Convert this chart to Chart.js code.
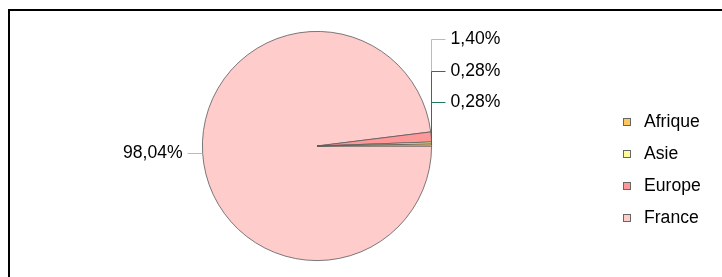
<!DOCTYPE html>
<html>
<head>
<meta charset="utf-8">
<script src="https://cdn.jsdelivr.net/npm/chart.js@4/dist/chart.umd.min.js"></script>
<style>
  html, body { margin: 0; padding: 0; background: #fff; }
  #wrap { position: relative; width: 722px; height: 277px; overflow: hidden; }
  #frame { position: absolute; left: 8px; top: 9px; width: 800px; height: 400px;
           border-left: 2px solid #000; border-top: 2px solid #000; }
  #pie { position: absolute; left: 0; top: 0; }
</style>
</head>
<body>
<div id="wrap">
  <div id="frame"></div>
  <canvas id="pie" width="722" height="277"></canvas>
</div>
<script>
  // drawn clockwise from 3 o'clock, legend shown reversed
  var labels = ["France", "Europe", "Asie", "Afrique"];
  var counts = [350, 5, 1, 1];
  var colors = ["#ffcccc", "#ff9999", "#ffff99", "#ffc65c"];

  var FONT = '17.6px "Liberation Sans", Arial, sans-serif';
  var LIGHT = "#98cbbb";
  var DARK = "#1f7a57";

  function pct(v) {
    var total = counts.reduce(function (a, b) { return a + b; }, 0);
    return (v / total * 100).toFixed(2).replace(".", ",") + "%";
  }

  var labelsPlugin = {
    id: "pieLabels",
    afterDatasetsDraw: function (chart) {
      var ctx = chart.ctx;
      var arcs = chart.getDatasetMeta(0).data;
      ctx.save();
      ctx.font = FONT;
      ctx.fillStyle = "#000";
      ctx.textBaseline = "middle";
      ctx.lineWidth = 1;

      // big slice on the left
      var a0 = arcs[0].getProps(["x", "y", "startAngle", "endAngle", "outerRadius"], true);
      var m0 = (a0.startAngle + a0.endAngle) / 2;
      var ex = a0.x + Math.cos(m0) * a0.outerRadius;
      var ey = Math.round(a0.y + Math.sin(m0) * a0.outerRadius) + 0.5;
      ctx.strokeStyle = LIGHT;
      ctx.beginPath();
      ctx.moveTo(ex, ey);
      ctx.lineTo(ex - 15, ey);
      ctx.stroke();
      ctx.textAlign = "right";
      ctx.fillText(pct(counts[0]), ex - 20, ey);

      // small slices stacked on the right
      var colX = Math.round(a0.x + a0.outerRadius) - 0.5;
      var topY = a0.y - a0.outerRadius + 8;
      ctx.textAlign = "left";
      for (var i = 1; i < arcs.length; i++) {
        var a = arcs[i].getProps(["x", "y", "startAngle", "endAngle", "outerRadius"], true);
        var m = (a.startAngle + a.endAngle) / 2;
        var py = a.y + Math.sin(m) * a.outerRadius;
        var ly = Math.round(topY + (i - 1) * 31.3) + 0.5;
        ctx.strokeStyle = i === 1 ? LIGHT : DARK;
        ctx.beginPath();
        ctx.moveTo(colX, py);
        ctx.lineTo(colX, ly);
        ctx.lineTo(colX + 14, ly);
        ctx.stroke();
        ctx.fillText(pct(counts[i]), colX + 19, ly);
      }

      // legend
      var lx = 623, ly0 = 122;
      for (var j = 0; j < labels.length; j++) {
        var k = labels.length - 1 - j;
        var y = ly0 + j * 32;
        ctx.fillStyle = colors[k];
        ctx.fillRect(lx, y - 4, 8, 8);
        ctx.strokeStyle = "#666";
        ctx.strokeRect(lx + 0.5, y - 3.5, 7, 7);
        ctx.fillStyle = "#000";
        ctx.fillText(labels[k], lx + 21, y);
      }
      ctx.restore();
    }
  };

  new Chart("pie", {
    type: "pie",
    data: {
      labels: labels,
      datasets: [{
        data: counts,
        backgroundColor: colors,
        borderColor: "#5a5a5a",
        borderWidth: 0.8
      }]
    },
    options: {
      responsive: false,
      animation: false,
      devicePixelRatio: 1,
      rotation: 90,
      layout: { padding: { left: 202, right: 290, top: 31, bottom: 16 } },
      plugins: {
        legend: { display: false },
        tooltip: { enabled: false }
      }
    },
    plugins: [labelsPlugin]
  });
</script>
</body>
</html>
